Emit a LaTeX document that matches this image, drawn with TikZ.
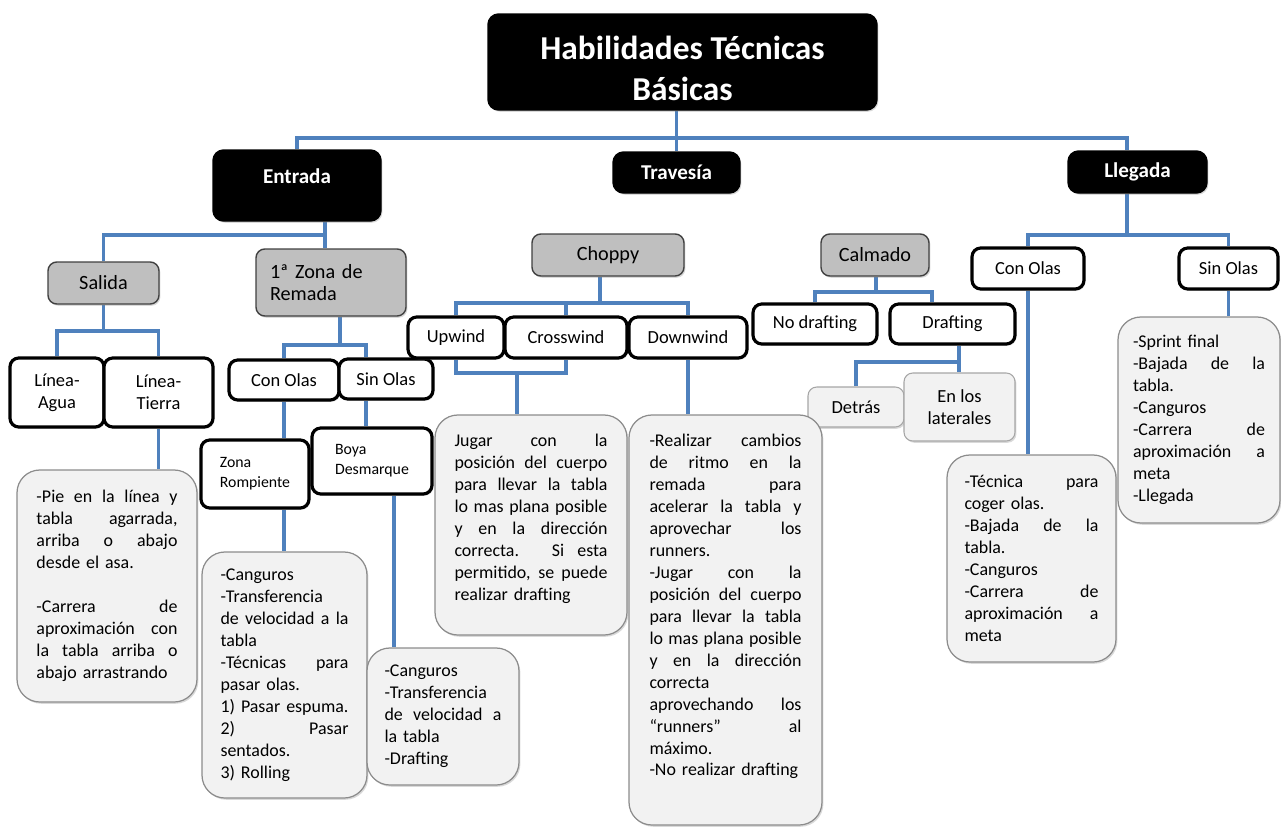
\documentclass[tikz,border=0pt]{standalone}
\usepackage{fontspec}
\setmainfont{Carlito}
\usetikzlibrary{shadows,backgrounds}
\definecolor{linkblue}{HTML}{4F81BD}
\definecolor{boxgray}{HTML}{BFBFBF}
\definecolor{notegray}{HTML}{F2F2F2}
\newcommand{\jl}[1]{\makebox[\hsize][s]{\spaceskip=0pt\xspaceskip=0pt #1}}

\begin{document}
\begin{tikzpicture}[
  shade/.style={drop shadow={opacity=0.3, shadow xshift=0.8pt, shadow yshift=-1pt}},
  head/.style={draw=black, fill=black, text=white, line width=0.8pt,
               rounded corners=6pt, inner sep=0pt, align=center,
               font=\fontsize{12}{14}\selectfont\bfseries, shade},
  group/.style={draw=black!75, fill=boxgray, line width=0.8pt,
                rounded corners=5pt, inner sep=0pt, align=center,
                font=\fontsize{11.5}{12.5}\selectfont, shade},
  item/.style={draw=black, fill=white, line width=1.8pt,
               rounded corners=5pt, inner sep=0pt, align=center,
               font=\fontsize{10.5}{12.5}\selectfont, shade},
  soft/.style={draw=black!35, fill=notegray, line width=0.6pt,
               rounded corners=5pt, inner sep=0pt, align=center,
               font=\fontsize{10.5}{12.5}\selectfont, shade},
  notes/.style={draw=black!45, fill=notegray, line width=0.7pt,
                rounded corners=13pt, inner sep=0pt, align=left,
                font=\fontsize{10.2}{12.5}\selectfont, shade},
  small/.style={font=\fontsize{9}{11.4}\selectfont, align=left},
  link/.style={draw=linkblue, line width=1.8pt},
]
\useasboundingbox (0,0) rectangle (25.62,-16.54);

% level 0 and 1
\node[head, minimum width=7.78cm, minimum height=1.92cm,
      font=\fontsize{19}{23}\selectfont\bfseries] (title) at (13.65,-1.24)
  {\rule{0pt}{0.72cm}Habilidades Técnicas\\Básicas};
\node[head, minimum width=3.36cm, minimum height=1.42cm, text depth=0.38cm] (ent) at (5.94,-3.71) {Entrada};
\node[head, minimum width=2.54cm, minimum height=0.82cm] (trav) at (13.53,-3.45) {Travesía};
\node[head, minimum width=2.78cm, minimum height=0.84cm] (lleg) at (22.75,-3.44) {Llegada};

% level 2
\node[group, minimum width=2.22cm, minimum height=0.84cm] (sal) at (2.07,-5.66) {Salida};
\node[group, minimum width=3.0cm, minimum height=1.34cm, text width=2.44cm, align=left] (zona) at (6.62,-5.65)
  {1ª Zona de\\Remada};
\node[group, minimum width=3.04cm, minimum height=0.84cm] (chop) at (12.16,-5.10) {Choppy};
\node[group, minimum width=2.16cm, minimum height=0.84cm] (calm) at (17.50,-5.10) {Calmado};
\node[item, minimum width=2.24cm, minimum height=0.82cm] (colL) at (20.56,-5.37) {Con Olas};
\node[item, minimum width=1.98cm, minimum height=0.82cm] (solL) at (24.57,-5.37) {Sin Olas};

% level 3
\node[item, minimum width=1.88cm, minimum height=1.38cm] (agua) at (1.14,-7.85) {Línea-\\Agua};
\node[item, minimum width=2.18cm, minimum height=1.38cm] (tierra) at (3.17,-7.85) {Línea-\\Tierra};
\node[item, minimum width=2.20cm, minimum height=0.80cm] (conz) at (5.68,-7.60) {Con Olas};
\node[item, minimum width=1.88cm, minimum height=0.80cm] (sinz) at (7.72,-7.58) {Sin Olas};
\node[item, minimum width=1.92cm, minimum height=0.82cm] (up) at (9.12,-6.75) {Upwind};
\node[item, minimum width=2.44cm, minimum height=0.82cm] (cross) at (11.32,-6.75) {Crosswind};
\node[item, minimum width=2.36cm, minimum height=0.82cm] (down) at (13.76,-6.75) {Downwind};
\node[item, minimum width=2.48cm, minimum height=0.80cm] (nodr) at (16.30,-6.48) {No drafting};
\node[item, minimum width=2.50cm, minimum height=0.80cm] (draf) at (19.05,-6.48) {Drafting};
\node[item, small, minimum width=2.16cm, minimum height=1.36cm] (zr) at (5.10,-9.48) {Zona\\Rompiente};
\node[item, small, minimum width=2.40cm, minimum height=1.32cm] (boya) at (7.44,-9.22) {Boya\\Desmarque};
\node[soft, minimum width=1.92cm, minimum height=0.80cm] (detr) at (17.12,-8.14) {Detrás};
\node[soft, minimum width=2.22cm, minimum height=1.36cm] (lat) at (19.19,-8.14) {En los\\laterales};

% text boxes
\node[notes, minimum width=3.60cm, minimum height=4.64cm, text width=2.82cm] (txsal) at (2.14,-11.72)
  {\jl{-Pie en la línea y}\\ \jl{tabla agarrada,}\\ \jl{arriba o abajo}\\ desde el asa.\\[12.5pt]
   \jl{-Carrera de}\\ \jl{aproximación con}\\ \jl{la tabla arriba o}\\ abajo arrastrando};
\node[notes, minimum width=3.30cm, minimum height=4.92cm, text width=2.56cm] (txzr) at (5.69,-13.50)
  {-Canguros\\ -Transferencia\\ \jl{de velocidad a la}\\ tabla\\ \jl{-Técnicas para}\\ pasar olas.\\
   \jl{1) Pasar espuma.}\\ \jl{2) Pasar}\\ sentados.\\ 3) Rolling};
\node[notes, minimum width=3.04cm, minimum height=2.74cm, text width=2.34cm] (txboya) at (8.86,-14.33)
  {-Canguros\\ -Transferencia\\ \jl{de velocidad a}\\ la tabla\\ -Drafting};
\node[notes, minimum width=3.84cm, minimum height=4.40cm, text width=3.06cm] (txjug) at (10.62,-10.50)
  {\jl{Jugar con la}\\ \jl{posición del cuerpo}\\ \jl{para llevar la tabla}\\ \jl{lo mas plana posible}\\
   \jl{y en la dirección}\\ \jl{correcta. Si esta}\\ \jl{permitido, se puede}\\
   realizar drafting\rule[-0.32cm]{0pt}{0.32cm}};
\node[notes, minimum width=3.86cm, minimum height=8.20cm, text width=3.04cm] (txdown) at (14.51,-12.40)
  {\jl{-Realizar cambios}\\ \jl{de ritmo en la}\\ \jl{remada para}\\ \jl{acelerar la tabla y}\\
   \jl{aprovechar los}\\ runners.\\ \jl{-Jugar con la}\\ \jl{posición del cuerpo}\\
   \jl{para llevar la tabla}\\ \jl{lo mas plana posible}\\ \jl{y en la dirección}\\ correcta\\
   \jl{aprovechando los}\\ \jl{“runners” al}\\ máximo.\\ \mbox{-No realizar drafting}\rule[-0.6cm]{0pt}{0.6cm}};
\node[notes, minimum width=3.38cm, minimum height=4.14cm, text width=2.68cm] (txcolL) at (20.63,-11.17)
  {\jl{-Técnica para}\\ coger olas.\\ \jl{-Bajada de la}\\ tabla.\\ -Canguros\\
   \jl{-Carrera de}\\ \jl{aproximación a}\\ meta};
\node[notes, minimum width=3.24cm, minimum height=4.12cm, text width=2.64cm] (txsolL) at (23.98,-8.40)
  {-Sprint final\\ \jl{-Bajada de la}\\ tabla.\\ -Canguros\\ \jl{-Carrera de}\\ \jl{aproximación a}\\
   meta\\ -Llegada};

% junctions
\coordinate (j0) at (13.53,-2.76);
\coordinate (j1) at (6.50,-4.70);
\coordinate (j2) at (2.07,-6.62);
\coordinate (j3) at (6.80,-6.90);
\coordinate (s1) at (7.32,-6.90);
\coordinate (s2) at (7.88,-10.50);
\coordinate (j4) at (12.00,-6.06);
\coordinate (j5) at (10.34,-7.46);
\coordinate (j6) at (17.52,-5.84);
\coordinate (s3) at (18.64,-5.84);
\coordinate (j7) at (19.18,-7.24);
\coordinate (j8) at (22.54,-4.70);

\begin{scope}[on background layer]
\draw[link] (trav.north) -- (trav.north |- title.south);
\draw[link] (ent.north) |- (j0) -| (j8 |- lleg.north);

\draw[link] (j1 |- ent.south) -- (j1 |- zona.north);
\draw[link] (sal.north) |- (j1);
\draw[link] (sal.south) -- (j2);
\draw[link] (agua.north) |- (j2) -| (tierra.north);
\draw[link] (tierra.south) -- (tierra.south |- txsal.north);

\draw[link] (j3 |- zona.south) -- (j3);
\draw[link] (conz.north) |- (j3) -| (s1 |- sinz.north);
\draw[link] (conz.south) -- (conz.south |- zr.north);
\draw[link] (s1 |- sinz.south) -- (s1 |- boya.north);
\draw[link] (conz.south |- zr.south) -- (conz.south |- txzr.north);
\draw[link] (s2 |- boya.south) -- (s2 |- txboya.north);

\draw[link] (j4 |- chop.south) -- (j4);
\draw[link] (up.north) |- (j4) -| (down.north);
\draw[link] (cross.north) -- (cross.north |- j4);
\draw[link] (up.south) |- (j5) -| (cross.south);
\draw[link] (j5) -- (j5 |- txjug.north);
\draw[link] (down.south) -- (down.south |- txdown.north);

\draw[link] (j6 |- calm.south) -- (j6);
\draw[link] (nodr.north) |- (j6) -| (s3 |- draf.north);
\draw[link] (j7 |- draf.south) -- (j7 |- lat.north);
\draw[link] (detr.north) |- (j7);

\draw[link] (j8 |- lleg.south) -- (j8);
\draw[link] (colL.north) |- (j8) -| (solL.north);
\draw[link] (colL.south) -- (colL.south |- txcolL.north);
\draw[link] (solL.south) -- (solL.south |- txsolL.north);
\end{scope}
\end{tikzpicture}
\end{document}
